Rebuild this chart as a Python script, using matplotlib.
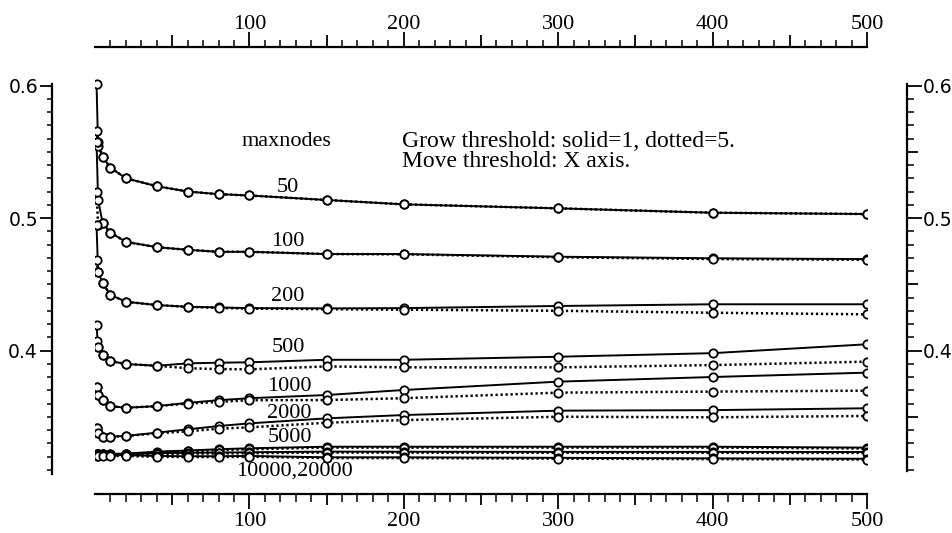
import numpy as np
import matplotlib
matplotlib.use("Agg")
import matplotlib.pyplot as plt
from matplotlib.ticker import FixedLocator, FuncFormatter

# move threshold (x axis)
move_thr = [1, 2, 5, 10, 20, 40, 60, 80, 100, 150, 200, 300, 400, 500]

# grow threshold 1 (solid) and 5 (dotted), one pair per maxnodes value
solid_50 = [0.601, 0.554, 0.546, 0.538, 0.530, 0.524, 0.520, 0.518, 0.517, 0.5136, 0.5103, 0.5073, 0.504, 0.503]
dotted_50 = [0.566, 0.557, 0.546, 0.538, 0.530, 0.524, 0.520, 0.518, 0.517, 0.5136, 0.5103, 0.5073, 0.504, 0.503]
solid_100 = [0.557, 0.5136, 0.496, 0.489, 0.482, 0.478, 0.476, 0.4745, 0.4745, 0.4728, 0.4728, 0.4708, 0.4696, 0.469]
dotted_100 = [0.520, 0.4947, 0.496, 0.489, 0.482, 0.478, 0.476, 0.4745, 0.4745, 0.4728, 0.4726, 0.4704, 0.469, 0.4685]
solid_200 = [0.4947, 0.4595, 0.4507, 0.442, 0.4368, 0.4343, 0.433, 0.4325, 0.432, 0.4318, 0.432, 0.4336, 0.4349, 0.4349]
dotted_200 = [0.468, 0.4595, 0.4507, 0.442, 0.4368, 0.4343, 0.433, 0.4322, 0.4316, 0.4312, 0.4308, 0.430, 0.4285, 0.4273]
solid_500 = [0.419, 0.4029, 0.3966, 0.392, 0.3898, 0.3885, 0.3903, 0.3908, 0.3911, 0.393, 0.393, 0.3953, 0.398, 0.4047]
dotted_500 = [0.4074, 0.4029, 0.3966, 0.392, 0.3898, 0.3885, 0.3866, 0.386, 0.3858, 0.388, 0.3873, 0.3873, 0.389, 0.3916]
solid_1000 = [0.3722, 0.3664, 0.3626, 0.358, 0.3568, 0.358, 0.3605, 0.3625, 0.364, 0.3664, 0.3702, 0.3765, 0.380, 0.3833]
dotted_1000 = [0.3722, 0.3664, 0.3626, 0.358, 0.3568, 0.358, 0.360, 0.3612, 0.3625, 0.3626, 0.364, 0.3682, 0.369, 0.3697]
solid_2000 = [0.3413, 0.3375, 0.335, 0.335, 0.3355, 0.338, 0.3405, 0.343, 0.345, 0.3488, 0.3513, 0.3546, 0.355, 0.3564]
dotted_2000 = [0.3413, 0.3375, 0.335, 0.335, 0.3355, 0.3375, 0.339, 0.341, 0.342, 0.3455, 0.3475, 0.350, 0.3496, 0.3506]
solid_5000 = [0.3222, 0.3222, 0.3222, 0.322, 0.3222, 0.3237, 0.3245, 0.3255, 0.3262, 0.3274, 0.3274, 0.3274, 0.3274, 0.3267]
dotted_5000 = [0.3216, 0.3216, 0.3216, 0.3214, 0.3216, 0.3230, 0.3238, 0.3248, 0.3255, 0.3267, 0.3267, 0.3267, 0.3267, 0.3260]
solid_10000 = [0.3218, 0.3218, 0.3218, 0.3218, 0.3218, 0.3225, 0.3228, 0.323, 0.3232, 0.3237, 0.3236, 0.3235, 0.3235, 0.3234]
dotted_10000 = [0.3212, 0.3212, 0.3212, 0.3212, 0.3212, 0.3218, 0.3221, 0.3223, 0.3225, 0.3230, 0.3229, 0.3228, 0.3228, 0.3227]
solid_20000 = [0.3212, 0.3212, 0.3212, 0.321, 0.321, 0.3204, 0.3202, 0.3202, 0.3204, 0.3194, 0.3194, 0.319, 0.3186, 0.3183]
dotted_20000 = [0.3206, 0.3206, 0.3206, 0.3204, 0.3204, 0.3198, 0.3196, 0.3196, 0.3198, 0.3188, 0.3188, 0.3184, 0.318, 0.3177]

series = [
    (solid_50, dotted_50), (solid_100, dotted_100), (solid_200, dotted_200),
    (solid_500, dotted_500), (solid_1000, dotted_1000), (solid_2000, dotted_2000),
    (solid_5000, dotted_5000), (solid_10000, dotted_10000), (solid_20000, dotted_20000),
]

# curve labels: text, x, y
curve_labels = ["50", "100", "200", "500", "1000", "2000", "5000", "10000,20000"]
label_x = [125, 125, 125, 125, 126, 126, 126, 129]
label_y = [0.5234, 0.4819, 0.4404, 0.4026, 0.3725, 0.3528, 0.334, 0.309]

serif = "Liberation Serif"
sans = "DejaVu Sans"

fig = plt.figure(figsize=(9.53, 5.33), dpi=100)
ax = fig.add_axes([95 / 953, 39 / 533, 772 / 953, 447.3 / 533])
ylim = (0.2917, 0.6293)
ax.set_xlim(0, 500)
ax.set_ylim(*ylim)

for s, d in series:
    ax.plot(move_thr, s, color="black", lw=1.4, zorder=2)
    ax.plot(move_thr, d, color="black", lw=1.8, linestyle=(0, (0.9, 1.1)), zorder=2)
for s, d in series:
    for vals in (s, d):
        ax.plot(move_thr, vals, linestyle="none", marker="o", ms=6.0, mfc="white",
                mec="black", mew=1.3, zorder=3)

for txt, lx, ly in zip(curve_labels, label_x, label_y):
    ax.text(lx, ly, txt, ha="center", va="center", fontsize=16, family=serif)
ax.text(124, 0.5574, "maxnodes", ha="center", va="center", fontsize=16, family=serif)
ax.text(199, 0.5576, "Grow threshold: solid=1, dotted=5.", ha="left", va="center",
        fontsize=17, family=serif)
ax.text(199, 0.5425, "Move threshold: X axis.", ha="left", va="center",
        fontsize=17, family=serif)

# ticks (lengths in points)
x_major = [100, 200, 300, 400, 500]
x_mid = [50, 150, 250, 350, 450]
x_minor = [v for v in range(10, 500, 10) if v % 50]
y_major = [0.4, 0.5, 0.6]
y_mid = [0.35, 0.45, 0.55]
y_minor = [round(v, 2) for v in np.arange(0.31, 0.605, 0.01) if round(v, 2) not in y_major]

# bottom and left axes
for side in ["top", "right"]:
    ax.spines[side].set_visible(False)
ax.spines["bottom"].set_linewidth(1.6)
ax.spines["left"].set_linewidth(1.6)
ax.spines["left"].set_position(("outward", 31))
ax.spines["left"].set_bounds(0.307, 0.601)

ax.xaxis.set_major_locator(FixedLocator(x_major))
ax.xaxis.set_minor_locator(FixedLocator(x_minor))
ax.tick_params(axis="x", which="major", direction="out", length=10.8, width=1.3, pad=2.5,
               labelsize=16, labelfontfamily=serif)
ax.tick_params(axis="x", which="minor", direction="out", length=5.5, width=1.1)

ax.yaxis.set_major_locator(FixedLocator(y_major))
ax.yaxis.set_minor_locator(FixedLocator(y_minor))
ax.yaxis.set_major_formatter(FuncFormatter(lambda v, p: "%.1f" % v))
ax.tick_params(axis="y", which="major", direction="out", length=8.6, width=1.3, pad=1.5,
               labelsize=13.5, labelfontfamily=sans)
ax.tick_params(axis="y", which="minor", direction="out", length=3.8, width=1.1)

bmid = ax.secondary_xaxis("bottom")
bmid.spines["bottom"].set_visible(False)
bmid.set_xticks(x_mid, labels=[])
bmid.tick_params(axis="x", direction="out", length=8.2, width=1.3)

# top axis
axt = ax.twiny()
axt.set_xlim(0, 500)
for side in ["left", "right", "bottom"]:
    axt.spines[side].set_visible(False)
axt.spines["top"].set_linewidth(1.6)
axt.xaxis.set_major_locator(FixedLocator(x_major))
axt.xaxis.set_minor_locator(FixedLocator(x_minor))
axt.tick_params(axis="x", which="major", direction="out", length=10.8, width=1.3, pad=-2,
                labelsize=16, labelfontfamily=serif)
axt.tick_params(axis="x", which="minor", direction="out", length=5.0, width=1.1)

tmid = axt.secondary_xaxis("top")
tmid.spines["top"].set_visible(False)
tmid.set_xticks(x_mid, labels=[])
tmid.tick_params(axis="x", direction="out", length=8.6, width=1.3)

# right axis
axr = ax.twinx()
axr.set_ylim(*ylim)
for side in ["left", "top", "bottom"]:
    axr.spines[side].set_visible(False)
axr.spines["right"].set_linewidth(1.6)
axr.spines["right"].set_position(("outward", 29))
axr.spines["right"].set_bounds(0.309, 0.601)
axr.yaxis.set_major_locator(FixedLocator(y_major))
axr.yaxis.set_minor_locator(FixedLocator([v for v in y_minor if v not in y_mid]))
axr.yaxis.set_major_formatter(FuncFormatter(lambda v, p: "%.1f" % v))
axr.tick_params(axis="y", which="major", direction="out", length=10.8, width=1.3, pad=0.5,
                labelsize=13.5, labelfontfamily=sans)
axr.tick_params(axis="y", which="minor", direction="out", length=5.0, width=1.1)

rmid = axr.secondary_yaxis(1 + 40 / 772)
rmid.spines["right"].set_visible(False)
rmid.set_yticks(y_mid, labels=[])
rmid.tick_params(axis="y", direction="out", length=8.0, width=1.3)

fig.savefig("out.png", dpi=100, facecolor="white")
